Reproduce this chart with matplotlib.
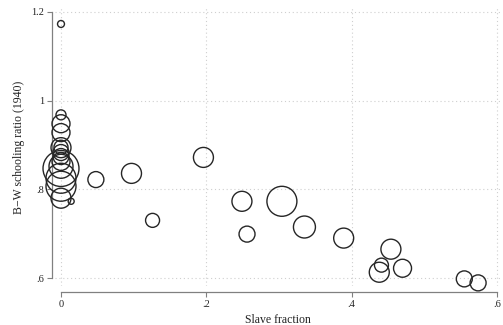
import matplotlib
matplotlib.use("Agg")
import matplotlib.pyplot as plt
import numpy as np

# Slave fraction (1860) vs. Black-White schooling ratio (1940), weighted by population
slave_frac = [0.000, 0.000, 0.000, 0.000, 0.000, 0.000, 0.000, 0.000, 0.000,
              0.000, 0.000, 0.000, 0.000, 0.014, 0.000,
              0.048, 0.097, 0.196, 0.126, 0.249, 0.256, 0.304, 0.335,
              0.389, 0.438, 0.441, 0.454, 0.470, 0.555, 0.574]
bw_ratio = [0.968, 0.948, 0.928, 0.894, 0.883, 0.874, 0.863, 0.852, 0.847,
            0.825, 0.807, 0.780, 0.895, 0.773, 1.173,
            0.822, 0.836, 0.872, 0.730, 0.773, 0.699, 0.773, 0.715,
            0.690, 0.613, 0.629, 0.665, 0.622, 0.598, 0.589]
weight = [25, 81, 81, 100, 64, 64, 81, 144, 324,
          225, 225, 100, 49, 9, 12,
          64, 100, 100, 49, 100, 64, 225, 121,
          100, 100, 49, 100, 81, 64, 64]

x_ticks = [0, 0.2, 0.4, 0.6]
x_labels = ["0", ".2", ".4", ".6"]
y_ticks = [0.6, 0.8, 1.0, 1.2]
y_labels = [".6", ".8", "1", "1.2"]

plt.rcParams["font.family"] = ["Liberation Serif", "DejaVu Serif"]

W, H = 503, 325
fig = plt.figure(figsize=(W / 100, H / 100), dpi=100)
left, right, top, bottom = 55, 500, 8, 286
ax = fig.add_axes([left / W, 1 - bottom / H, (right - left) / W, (bottom - top) / H])

x0, x1 = 61, 497
y06, y12 = 278, 12
sx = (x1 - x0) / 0.6
sy = (y06 - y12) / 0.6
ax.set_xlim(0 + (left - x0) / sx, 0.6 + (right - x1) / sx)
ax.set_ylim(0.6 - (bottom - y06) / sy, 1.2 + (y12 - top) / sy)

# marker area proportional to weight
sizes = [w * 2.07 for w in weight]
order = np.argsort(weight)[::-1]
ax.scatter(np.array(slave_frac)[order], np.array(bw_ratio)[order],
           s=np.array(sizes)[order], facecolors="none", edgecolors="#262626",
           linewidths=1.0, zorder=3, clip_on=False)

for xv in x_ticks:
    ax.axvline(xv, color="#cfcfcf", lw=0.8, ls=(0, (1, 2.5)), zorder=1)
for yv in y_ticks:
    ax.axhline(yv, color="#cfcfcf", lw=0.8, ls=(0, (1, 2.5)), zorder=1)

for s in ("top", "right"):
    ax.spines[s].set_visible(False)
ax.spines["left"].set_position(("outward", 3 * 0.72))
ax.spines["bottom"].set_position(("outward", 6 * 0.72))
ax.spines["left"].set_bounds(0.6, 1.2)
ax.spines["bottom"].set_bounds(0, 0.6)
for s in ("left", "bottom"):
    ax.spines[s].set_color("#808080")
    ax.spines[s].set_linewidth(0.9)
    ax.spines[s].set_zorder(2)

ax.set_xticks(x_ticks, x_labels)
ax.set_yticks(y_ticks, y_labels)
ax.tick_params(axis="both", length=3.5, width=0.8, color="#808080",
               labelsize=7.5, labelcolor="#222222", pad=2)

ax.set_xlabel("Slave fraction", fontsize=8.5, color="#222222", labelpad=4)
ax.set_ylabel("B\u2212W schooling ratio (1940)", fontsize=8.5, color="#222222", labelpad=5)

fig.savefig("out.png", dpi=100)
